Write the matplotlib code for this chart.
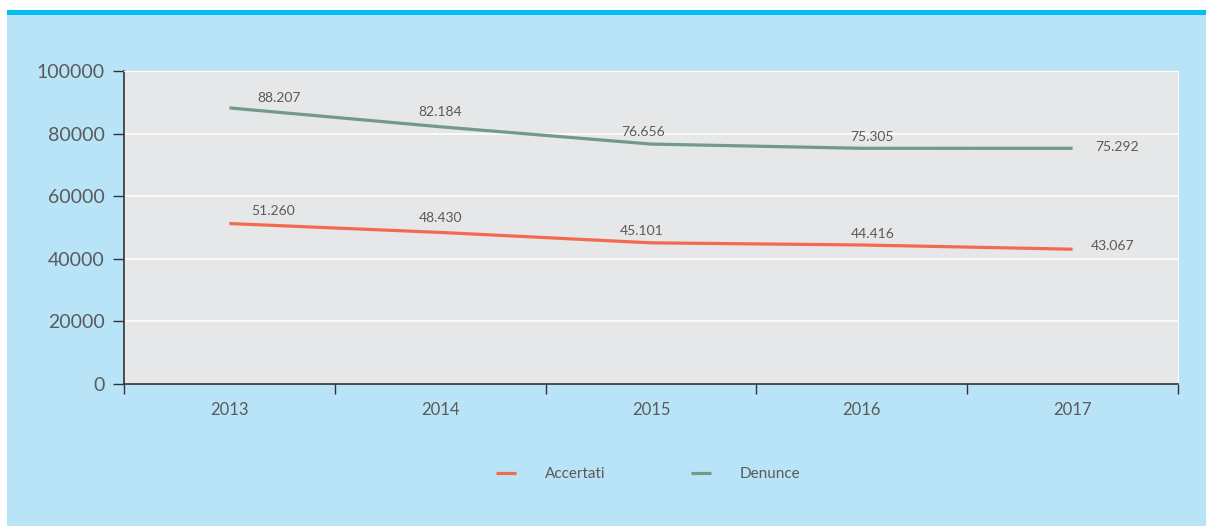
import matplotlib
matplotlib.use('Agg')
import matplotlib.pyplot as plt
from matplotlib.patches import Rectangle
import numpy as np

years = ['2013', '2014', '2015', '2016', '2017']
accertati = [51260, 48430, 45101, 44416, 43067]
denunce = [88207, 82184, 76656, 75305, 75292]

# label offsets in pixels (dx, dy), picked by eye
off_acc = [(44, 13), (0, 14), (-9, 12), (11, 11), (40, 3)]
off_den = [(50, 10), (0, 15), (-8, 12), (10, 11), (44, 1)]

c_acc = '#f26b4f'
c_den = '#729a89'
txt = '#5a5a5a'

plt.rcParams['font.family'] = ['Lato', 'DejaVu Sans']

fig = plt.figure(figsize=(12.06, 5.26), dpi=100)
fig.patch.set_facecolor('white')

# background panel and top bar
fig.add_artist(Rectangle((7 / 1206, 0), 1, 511 / 526, transform=fig.transFigure,
                         facecolor='#b9e4f8', edgecolor='none', zorder=0))
fig.add_artist(Rectangle((7 / 1206, 511 / 526), 1, 5 / 526, transform=fig.transFigure,
                         facecolor='#00bdf2', edgecolor='none', zorder=0))

ax = fig.add_axes([124 / 1206, 1 - 384 / 526, 1054 / 1206, 313 / 526])
ax.set_facecolor('#e6e7e9')

x = np.arange(len(years))
ax.plot(x, accertati, color=c_acc, lw=2.3, label='Accertati', solid_capstyle='butt')
ax.plot(x, denunce, color=c_den, lw=2.3, label='Denunce', solid_capstyle='butt')


def fmt(v):
    return f'{v:,}'.replace(',', '.')


for i in range(len(years)):
    ax.annotate(fmt(accertati[i]), (x[i], accertati[i]), xytext=off_acc[i],
                textcoords='offset pixels', ha='center', va='center',
                fontsize=10, color=txt)
    ax.annotate(fmt(denunce[i]), (x[i], denunce[i]), xytext=off_den[i],
                textcoords='offset pixels', ha='center', va='center',
                fontsize=10, color=txt)

ax.set_xlim(-0.5, 4.5)
ax.set_ylim(0, 100000)
ax.set_yticks(np.arange(0, 100001, 20000))
ax.set_yticklabels([str(v) for v in range(0, 100001, 20000)])
ax.set_xticks(x)
ax.set_xticklabels(years)
ax.set_xticks(np.arange(-0.5, 5, 1), minor=True)

ax.grid(axis='y', color='white', lw=1.2)
ax.set_axisbelow(True)
ax.tick_params(axis='x', which='major', length=0, pad=13, labelsize=12, labelcolor=txt)
ax.tick_params(axis='x', which='minor', length=7, color='#333333', width=1)
ax.tick_params(axis='y', length=8, color='#333333', width=1, pad=6, labelsize=14, labelcolor=txt)

for s in ['top', 'right']:
    ax.spines[s].set_color('white')
for s in ['left', 'bottom']:
    ax.spines[s].set_color('#333333')
    ax.spines[s].set_linewidth(1.2)

leg = fig.legend(loc='center', bbox_to_anchor=(0.5375, 1 - 474 / 526), ncol=2,
                 frameon=False, fontsize=11, handlelength=1.3, handletextpad=1.9,
                 columnspacing=5.6, labelcolor=txt)

fig.savefig('out.png', dpi=100)
